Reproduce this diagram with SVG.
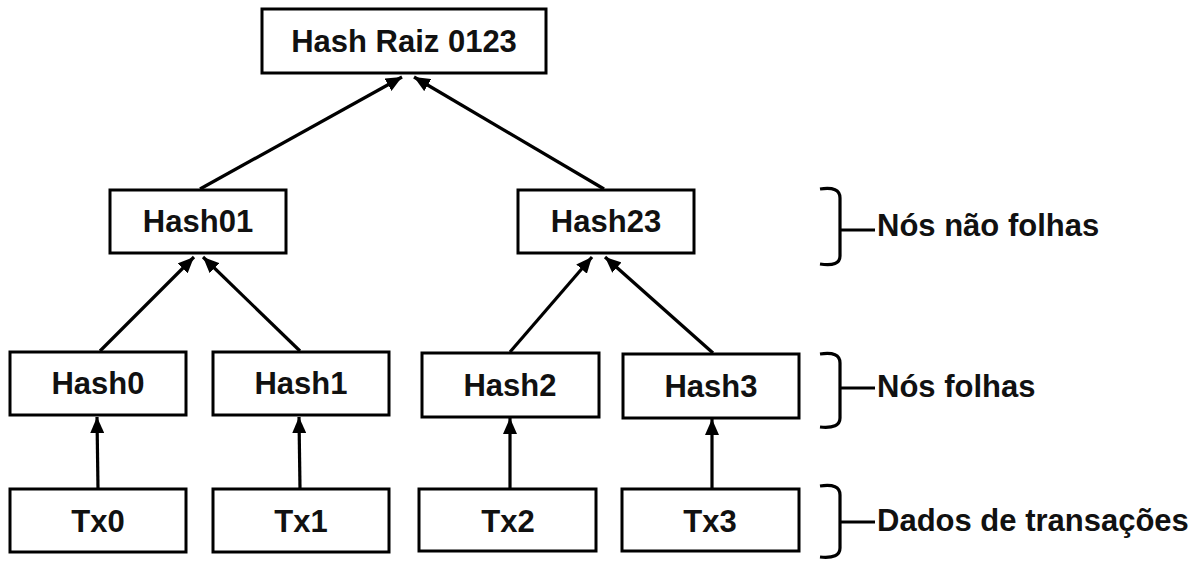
<svg xmlns="http://www.w3.org/2000/svg" width="1203" height="561" viewBox="0 0 1203 561">
<defs>
<style>
.box{fill:#fff;stroke:#000;stroke-width:3}
.t{font-family:"Liberation Sans",Arial,sans-serif;font-weight:bold;font-size:31px;fill:#111;text-anchor:middle}
.lbl{font-family:"Liberation Sans",Arial,sans-serif;font-weight:bold;font-size:31px;fill:#111}
.e{stroke:#000;stroke-width:3.2;fill:none}
.br{stroke:#000;stroke-width:3.2;fill:none}
</style>
<marker id="ah" markerUnits="userSpaceOnUse" markerWidth="18" markerHeight="14" refX="16" refY="7" orient="auto">
<path d="M0,0 L16,7 L0,14 Z" fill="#000"/>
</marker>
</defs>
<rect width="1203" height="561" fill="#fff"/>
<g id="connectors">
<line class="e" x1="200" y1="189" x2="402" y2="77" marker-end="url(#ah)"/>
<line class="e" x1="604" y1="189" x2="414" y2="77" marker-end="url(#ah)"/>
<line class="e" x1="100" y1="351" x2="194" y2="257" marker-end="url(#ah)"/>
<line class="e" x1="300" y1="351" x2="203" y2="257" marker-end="url(#ah)"/>
<line class="e" x1="510" y1="352" x2="592" y2="257" marker-end="url(#ah)"/>
<line class="e" x1="713" y1="353" x2="605" y2="257" marker-end="url(#ah)"/>
<line class="e" x1="98" y1="489" x2="97" y2="417" marker-end="url(#ah)"/>
<line class="e" x1="300" y1="489" x2="299" y2="417" marker-end="url(#ah)"/>
<line class="e" x1="510" y1="489" x2="510" y2="418" marker-end="url(#ah)"/>
<line class="e" x1="712" y1="489" x2="712" y2="419" marker-end="url(#ah)"/>
</g>
<g id="root"><rect class="box" x="262" y="9" width="284" height="64"/><text class="t" x="404" y="52">Hash Raiz 0123</text></g>
<g id="hash01"><rect class="box" x="110" y="190" width="176" height="63"/><text class="t" x="198" y="232">Hash01</text></g>
<g id="hash23"><rect class="box" x="518" y="190" width="176" height="63"/><text class="t" x="606" y="232">Hash23</text></g>
<g id="hash0"><rect class="box" x="10" y="352" width="176" height="63"/><text class="t" x="98" y="394">Hash0</text></g>
<g id="hash1"><rect class="box" x="213" y="352" width="176" height="63"/><text class="t" x="301" y="394">Hash1</text></g>
<g id="hash2"><rect class="box" x="422" y="353" width="177" height="64"/><text class="t" x="510" y="396">Hash2</text></g>
<g id="hash3"><rect class="box" x="623" y="354" width="176" height="64"/><text class="t" x="711" y="397">Hash3</text></g>
<g id="tx0"><rect class="box" x="10" y="489" width="176" height="63"/><text class="t" x="98" y="532">Tx0</text></g>
<g id="tx1"><rect class="box" x="213" y="489" width="176" height="63"/><text class="t" x="301" y="532">Tx1</text></g>
<g id="tx2"><rect class="box" x="419" y="489" width="177" height="62"/><text class="t" x="508" y="532">Tx2</text></g>
<g id="tx3"><rect class="box" x="622" y="489" width="177" height="62"/><text class="t" x="710" y="532">Tx3</text></g>
<g id="label-nonleaf">
<path class="br" d="M820,189 Q840,186 840,198 L840,256 Q840,267 820,264 M840,230 H875"/>
<text class="lbl" x="877" y="236">Nós não folhas</text>
</g>
<g id="label-leaf">
<path class="br" d="M820,354 Q840,351 840,363 L840,418 Q840,429 820,427 M840,388 H875"/>
<text class="lbl" x="877" y="397">Nós folhas</text>
</g>
<g id="label-data">
<path class="br" d="M820,486 Q840,483 840,495 L840,548 Q840,559 820,557 M840,522 H875"/>
<text class="lbl" x="877" y="531">Dados de transações</text>
</g>
</svg>
